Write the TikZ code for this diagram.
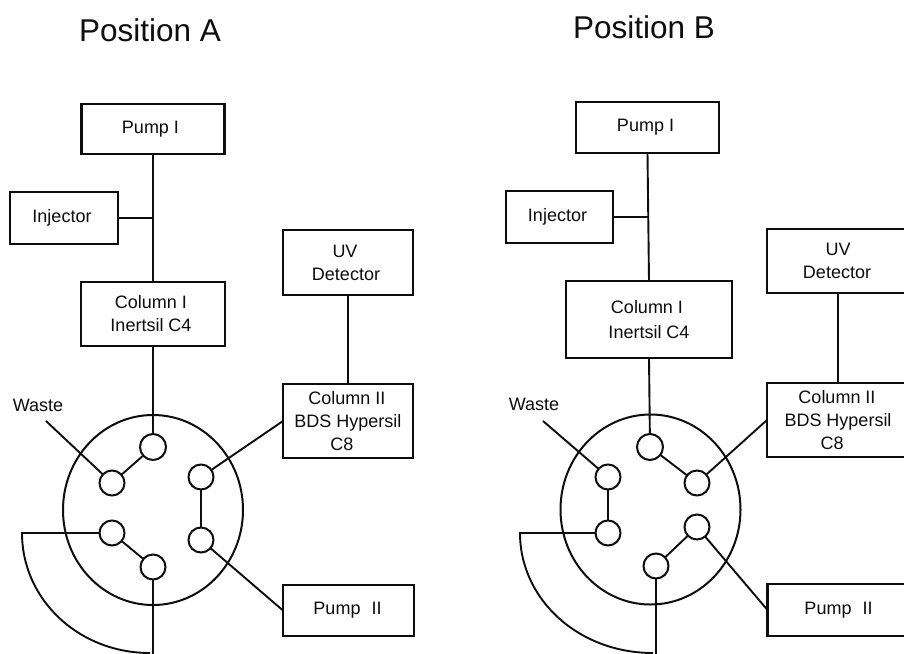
\documentclass[tikz,border=0pt]{standalone}
\usepackage{fontspec}
\setmainfont{Liberation Sans}
\usetikzlibrary{shapes.geometric}
\tikzset{
  x=1pt,y=-1pt,
  box/.style={draw=ink,line width=2.1pt,rectangle,inner sep=0pt,outer sep=0pt,align=center,text=ink,font=\fontsize{18}{23}\selectfont},
  rotor/.style={draw=ink,line width=2pt,ellipse,inner sep=0pt,outer sep=0pt,minimum width=180,minimum height=190},
  port/.style={draw=ink,line width=2pt,circle,inner sep=0pt,outer sep=0pt,minimum size=25},
  pipe/.style={draw=ink,line width=1.9pt},
  title/.style={font=\fontsize{31.5}{36}\selectfont,text=ink,inner sep=0pt,anchor=base},
  tag/.style={font=\fontsize{18}{22}\selectfont,text=ink,inner sep=0pt},
}
\definecolor{ink}{gray}{0.05}
\begin{document}
\begin{tikzpicture}
\clip (0,0) rectangle (904,653);
\fill[white] (0,0) rectangle (904,653);
% ---------- Position A ----------
\node[title] (ta) at (150,41) {Position A};
\node[box,minimum width=143,minimum height=50] (ap1) at (153,129) {\raisebox{-1pt}{Pump I}\hspace*{5pt}};
\node[box,minimum width=108,minimum height=52] (ainj) at (64,218) {Injector\hspace*{4pt}};
\node[box,minimum width=144,minimum height=64] (ac1) at (153,314) {Column I\hspace*{4pt}\\Inertsil C4\hspace*{4pt}};
\node[box,minimum width=130,minimum height=65] (auv) at (348,262.5) {UV\hspace*{6pt}\\Detector\hspace*{4pt}};
\node[box,minimum width=130,minimum height=74] (ac2) at (348,421) {Column II\hspace*{2pt}\\BDS Hypersil\\\hspace*{-12pt}C8};
\node[box,minimum width=131,minimum height=51] (ap2) at (348.5,610.5) {Pump\,\, II\hspace*{2pt}};
\node[rotor] (ar) at (153,510) {};
\node[tag] (aw) at (38,405) {Waste};
\node[port,minimum size=26] (pa1) at (153,447) {};
\node[port] (pa2) at (112,483) {};
\node[port] (pa3) at (112,533) {};
\node[port] (pa4) at (153,567) {};
\node[port] (pa5) at (201,540) {};
\node[port] (pa6) at (201,477) {};
\coordinate (ajn) at (153,218);
\coordinate (awe) at (46,421);
\coordinate (aco) at (22,533);
\coordinate (abe) at (150,653);
\coordinate (aen) at (153,660);
\draw[pipe] (ap1.south) -- (ac1.north);
\draw[pipe] (ainj.east) -- (ajn);
\draw[pipe] (ac1.south) -- (pa1);
\draw[pipe] (auv.south) -- (ac2.north);
\draw[pipe] (pa1) -- (pa2);
\draw[pipe] (awe) -- (pa2);
\draw[pipe] (pa3) -- (pa4);
\draw[pipe] (pa5) -- (pa6);
\draw[pipe] (pa6) -- (ac2.west);
\draw[pipe] (pa5) -- (ap2.west);
\draw[pipe] (pa4) -- (aen);
\draw[pipe] (pa3) -- (aco) .. controls (22,599) and (78,653) .. (abe);
% ---------- Position B ----------
\node[title] (tb) at (644,38) {Position B};
\node[box,minimum width=143,minimum height=51] (bp1) at (647.5,127.5) {\raisebox{-1pt}{Pump I}\hspace*{4pt}};
\node[box,minimum width=107,minimum height=52] (binj) at (559.5,217) {Injector\hspace*{4pt}};
\node[box,minimum width=166,minimum height=77] (bc1) at (649,319.5) {Column I\hspace*{4pt}\\[2pt]Inertsil C4};
\node[box,minimum width=142,minimum height=64] (buv) at (838,261) {UV\\Detector\hspace*{2pt}};
\node[box,minimum width=142,minimum height=74] (bc2) at (838,420) {Column II\hspace*{2pt}\\BDS Hypersil\\\hspace*{-12pt}C8};
\node[box,minimum width=142,minimum height=52] (bp2) at (838.5,610) {Pump\,\, II};
\node[rotor] (br) at (650.5,509.5) {};
\node[tag] (bw) at (534,404) {Waste};
\node[port,minimum size=26] (pb1) at (650,447) {};
\node[port] (pb2) at (697,483) {};
\node[port] (pb3) at (697,527) {};
\node[port] (pb4) at (656,566) {};
\node[port] (pb5) at (608,533) {};
\node[port] (pb6) at (608,477) {};
\coordinate (bjn) at (648,217);
\coordinate (bwe) at (543,421);
\coordinate (bco) at (520,533);
\coordinate (bbe) at (653,653);
\coordinate (ben) at (656,660);
\draw[pipe] (bp1.south) -- (bc1.north);
\draw[pipe] (binj.east) -- (bjn);
\draw[pipe] (bc1.south) -- (pb1);
\draw[pipe] (buv.south) -- (bc2.north);
\draw[pipe] (pb1) -- (pb2);
\draw[pipe] (pb2) -- (bc2.west);
\draw[pipe] (pb3) -- (pb4);
\draw[pipe] (pb3) -- (bp2.west);
\draw[pipe] (pb5) -- (pb6);
\draw[pipe] (bwe) -- (pb6);
\draw[pipe] (pb4) -- (ben);
\draw[pipe] (pb5) -- (bco) .. controls (520,599) and (578,653) .. (bbe);
\end{tikzpicture}
\end{document}
